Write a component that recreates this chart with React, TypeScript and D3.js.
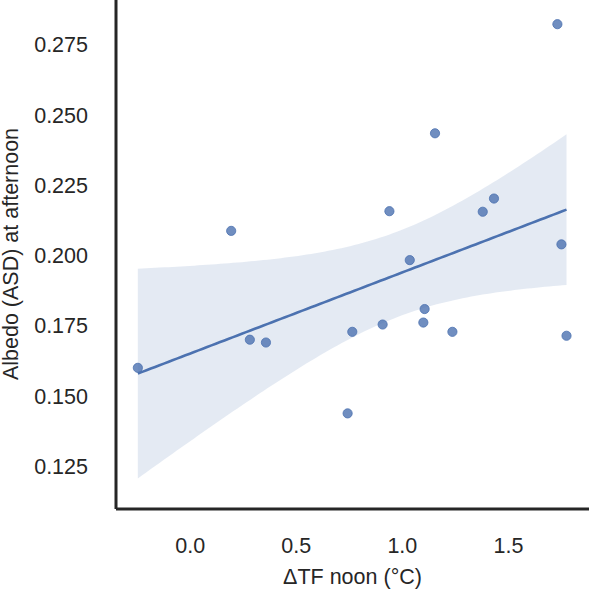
import React, { useEffect, useRef } from "react";
import * as d3 from "d3";

// ΔTF noon (°C) per sample
const dtfNoon = [
  -0.247, 0.193, 0.281, 0.357, 0.742, 0.764, 0.907, 0.939, 1.035,
  1.099, 1.105, 1.154, 1.236, 1.379, 1.432, 1.731, 1.75, 1.774,
];
// Albedo (ASD) at afternoon per sample
const albedo = [
  0.1601, 0.2088, 0.1701, 0.1691, 0.1439, 0.1729, 0.1755, 0.2158, 0.1984,
  0.1762, 0.181, 0.2435, 0.1729, 0.2156, 0.2203, 0.2823, 0.204, 0.1715,
];
const xTicks = [0.0, 0.5, 1.0, 1.5];
const yTicks = [0.125, 0.15, 0.175, 0.2, 0.225, 0.25, 0.275];

const W = 590;
const H = 589;
const blue = "#4c72b0";
const ink = "#262626";
const font = "'Liberation Sans', Arial, sans-serif";

const App = () => {
  const ref = useRef<SVGSVGElement>(null);

  useEffect(() => {
    const svg = d3.select(ref.current);
    svg.selectAll("*").remove();

    const x = d3.scaleLinear().domain([-0.35, 1.88]).range([116, 589]);
    const y = d3.scaleLinear().domain([0.1099, 0.2909]).range([509, 0]);

    // ordinary least squares + 95% confidence band
    const n = dtfNoon.length;
    const mx = d3.mean(dtfNoon)!;
    const my = d3.mean(albedo)!;
    let sxx = 0, sxy = 0;
    dtfNoon.forEach((v, i) => {
      sxx += (v - mx) ** 2;
      sxy += (v - mx) * (albedo[i] - my);
    });
    const slope = sxy / sxx;
    const icpt = my - slope * mx;
    let sse = 0;
    dtfNoon.forEach((v, i) => {
      sse += (albedo[i] - (icpt + slope * v)) ** 2;
    });
    const s = Math.sqrt(sse / (n - 2));
    const t = 2.12;
    const [x0, x1] = d3.extent(dtfNoon) as [number, number];
    const grid = d3.range(100).map((i) => x0 + ((x1 - x0) * i) / 99);
    const band = grid.map((g) => {
      const fit = icpt + slope * g;
      const half = t * s * Math.sqrt(1 / n + (g - mx) ** 2 / sxx);
      return { g, fit, lo: fit - half, hi: fit + half };
    });

    svg.append("path")
      .datum(band)
      .attr("fill", blue)
      .attr("fill-opacity", 0.15)
      .attr("d", d3.area<any>().x((d) => x(d.g)).y0((d) => y(d.lo)).y1((d) => y(d.hi)));

    svg.selectAll(".pt")
      .data(dtfNoon)
      .enter().append("circle")
      .attr("class", "pt")
      .attr("cx", (d) => x(d))
      .attr("cy", (d, i) => y(albedo[i]))
      .attr("r", 4.6)
      .attr("fill", blue)
      .attr("fill-opacity", 0.8)
      .attr("stroke", blue)
      .attr("stroke-opacity", 0.8)
      .attr("stroke-width", 1);

    svg.append("path")
      .datum(band)
      .attr("fill", "none")
      .attr("stroke", blue)
      .attr("stroke-width", 2.6)
      .attr("d", d3.line<any>().x((d) => x(d.g)).y((d) => y(d.fit)));

    // spines
    svg.append("line")
      .attr("x1", 116).attr("x2", 116).attr("y1", 0).attr("y2", 509)
      .attr("stroke", ink).attr("stroke-width", 3);
    svg.append("line")
      .attr("x1", 116).attr("x2", 589).attr("y1", 509).attr("y2", 509)
      .attr("stroke", ink).attr("stroke-width", 3);

    const fmt3 = d3.format(".3f");
    svg.selectAll(".yt")
      .data(yTicks)
      .enter().append("text")
      .attr("class", "yt")
      .attr("x", 88)
      .attr("y", (d) => y(d))
      .attr("dy", "0.35em")
      .attr("text-anchor", "end")
      .attr("font-family", font)
      .attr("font-size", 21.5)
      .attr("fill", ink)
      .text((d) => fmt3(d));

    svg.selectAll(".xt")
      .data(xTicks)
      .enter().append("text")
      .attr("class", "xt")
      .attr("x", (d) => x(d))
      .attr("y", 552.5)
      .attr("text-anchor", "middle")
      .attr("font-family", font)
      .attr("font-size", 21.5)
      .attr("fill", ink)
      .text((d) => d.toFixed(1));

    svg.append("text")
      .attr("x", 352.5)
      .attr("y", 584)
      .attr("text-anchor", "middle")
      .attr("font-family", font)
      .attr("font-size", 21.5)
      .attr("fill", ink)
      .text("ΔTF noon (°C)");

    svg.append("text")
      .attr("transform", `translate(18, 254) rotate(-90)`)
      .attr("text-anchor", "middle")
      .attr("font-family", font)
      .attr("font-size", 21.5)
      .attr("fill", ink)
      .text("Albedo (ASD) at afternoon");
  }, []);

  return (
    <svg
      ref={ref}
      width={W}
      height={H}
      style={{ position: "absolute", left: 0, top: 0, background: "#fff" }}
    />
  );
};

export default App;
